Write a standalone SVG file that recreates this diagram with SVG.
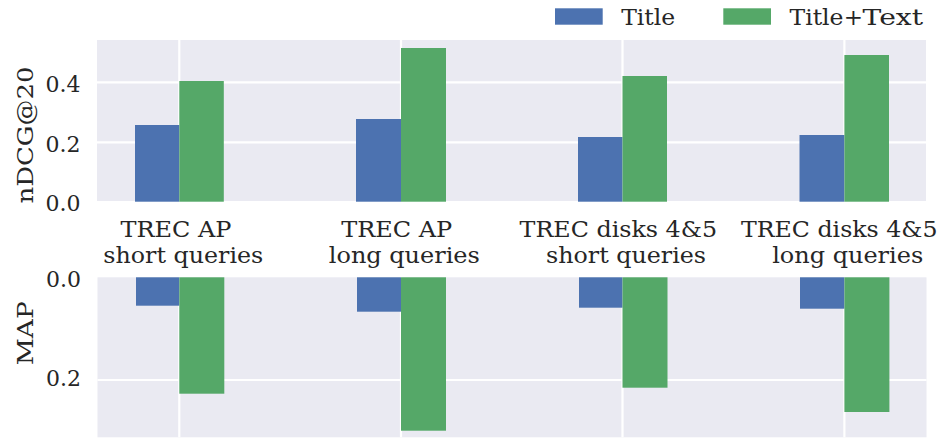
<svg xmlns="http://www.w3.org/2000/svg" width="941" height="438" viewBox="0 0 941 438">
  <style>
    text { font-family: "DejaVu Serif", "Liberation Serif", serif; font-size: 22px; fill: #262626; }
    .bg { fill: #EAEAF2; }
    .grid { stroke: #FFFFFF; stroke-width: 2.2; fill: none; }
    .title { fill: #4C72B0; }
    .full { fill: #55A868; }
    .tick { text-anchor: end; }
    .cat { text-anchor: middle; font-size: 23px; }
    .leg { font-size: 23px; }
  </style>

  <!-- legend -->
  <g id="legend">
    <rect class="title" x="555" y="8.3" width="47.7" height="16.4"/>
    <text class="leg" x="621.2" y="25" textLength="54" lengthAdjust="spacingAndGlyphs">Title</text>
    <rect class="full" x="723.3" y="8.3" width="47.7" height="16.4"/>
    <text class="leg" y="25"><tspan x="789.5" textLength="54" lengthAdjust="spacingAndGlyphs">Title</tspan><tspan x="843.8">+</tspan><tspan x="862.6" textLength="60.5" lengthAdjust="spacingAndGlyphs">Text</tspan></text>
  </g>

  <!-- upper panel: nDCG@20 -->
  <g id="ndcg-axes">
    <rect class="bg" x="97" y="40" width="829" height="161"/>
    <g class="grid">
      <line x1="97" y1="82.3" x2="926" y2="82.3"/>
      <line x1="97" y1="142.3" x2="926" y2="142.3"/>
      <line x1="179.3" y1="40" x2="179.3" y2="201"/>
      <line x1="401" y1="40" x2="401" y2="201"/>
      <line x1="622.5" y1="40" x2="622.5" y2="201"/>
      <line x1="844.4" y1="40" x2="844.4" y2="201"/>
    </g>
    <text class="tick" x="80.5" y="91.5">0.4</text>
    <text class="tick" x="80.5" y="151.5">0.2</text>
    <text class="tick" x="80.5" y="211">0.0</text>
    <text transform="translate(32.5,135) rotate(-90)" text-anchor="middle" textLength="137" lengthAdjust="spacingAndGlyphs">nDCG@20</text>
  </g>
  <g id="ndcg-bars">
    <rect class="title" x="135" y="125" width="44.3" height="76.7"/>
    <rect class="full" x="179.3" y="81" width="44.5" height="120.7"/>
    <rect class="title" x="356" y="119" width="45" height="82.7"/>
    <rect class="full" x="401" y="48" width="45" height="153.7"/>
    <rect class="title" x="578" y="137" width="44.5" height="64.7"/>
    <rect class="full" x="622.5" y="76" width="44.5" height="125.7"/>
    <rect class="title" x="799.5" y="135" width="44.9" height="66.7"/>
    <rect class="full" x="844.4" y="55" width="44.6" height="146.7"/>
  </g>

  <!-- category labels -->
  <g id="categories">
    <text class="cat" x="176" y="236.5" textLength="111" lengthAdjust="spacingAndGlyphs">TREC AP</text>
    <text class="cat" x="183.3" y="262.5" textLength="160" lengthAdjust="spacingAndGlyphs">short queries</text>
    <text class="cat" x="396.7" y="236.5" textLength="111" lengthAdjust="spacingAndGlyphs">TREC AP</text>
    <text class="cat" x="404.3" y="262.5" textLength="151" lengthAdjust="spacingAndGlyphs">long queries</text>
    <text class="cat" x="618.3" y="236.5" textLength="197.5" lengthAdjust="spacingAndGlyphs">TREC disks 4&amp;5</text>
    <text class="cat" x="626" y="262.5" textLength="160" lengthAdjust="spacingAndGlyphs">short queries</text>
    <text class="cat" x="839.2" y="236.5" textLength="196.5" lengthAdjust="spacingAndGlyphs">TREC disks 4&amp;5</text>
    <text class="cat" x="847.7" y="262.5" textLength="151" lengthAdjust="spacingAndGlyphs">long queries</text>
  </g>

  <!-- lower panel: MAP (inverted axis) -->
  <g id="map-axes">
    <rect class="bg" x="97.5" y="277.3" width="829" height="160"/>
    <g class="grid">
      <line x1="97.5" y1="380" x2="926.5" y2="380"/>
      <line x1="179.3" y1="277.3" x2="179.3" y2="437.3"/>
      <line x1="401" y1="277.3" x2="401" y2="437.3"/>
      <line x1="622.5" y1="277.3" x2="622.5" y2="437.3"/>
      <line x1="844.4" y1="277.3" x2="844.4" y2="437.3"/>
    </g>
    <text class="tick" x="81" y="287">0.0</text>
    <text class="tick" x="81" y="386.3">0.2</text>
    <text transform="translate(33,333.3) rotate(-90)" text-anchor="middle" textLength="64" lengthAdjust="spacingAndGlyphs">MAP</text>
  </g>
  <g id="map-bars">
    <rect class="title" x="136" y="277.3" width="43.3" height="28.4"/>
    <rect class="full" x="179.3" y="277.3" width="45" height="116.4"/>
    <rect class="title" x="357" y="277.3" width="44" height="34.4"/>
    <rect class="full" x="401" y="277.3" width="45" height="153.4"/>
    <rect class="title" x="579" y="277.3" width="43.5" height="30.4"/>
    <rect class="full" x="622.5" y="277.3" width="45" height="110.4"/>
    <rect class="title" x="800" y="277.3" width="44.4" height="31.4"/>
    <rect class="full" x="844.4" y="277.3" width="45" height="134.7"/>
  </g>
</svg>
